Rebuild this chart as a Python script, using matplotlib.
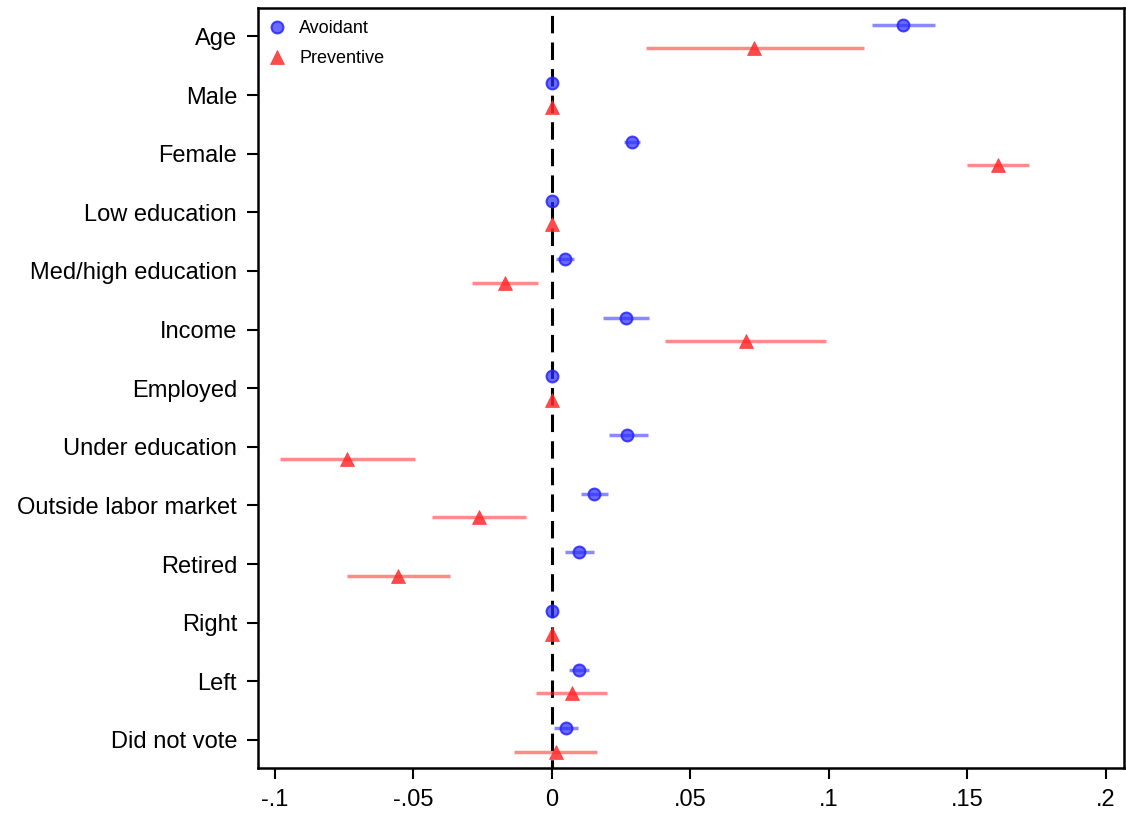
import numpy as np
import matplotlib
matplotlib.use("Agg")
import matplotlib.pyplot as plt

plt.rcParams['font.family'] = ['Liberation Sans', 'DejaVu Sans']

labels = ['Age', 'Male', 'Female', 'Low education', 'Med/high education', 'Income',
          'Employed', 'Under education', 'Outside labor market', 'Retired',
          'Right', 'Left', 'Did not vote']

avoid_est = [0.1268, 0.0, 0.0288, 0.0, 0.0047, 0.0266, 0.0, 0.0273, 0.0151, 0.0097, 0.0, 0.0097, 0.0050]
avoid_lo = [0.1156, 0.0, 0.0260, 0.0, 0.0014, 0.0184, 0.0, 0.0205, 0.0104, 0.0047, 0.0, 0.0061, 0.0007]
avoid_hi = [0.1383, 0.0, 0.0317, 0.0, 0.0079, 0.0350, 0.0, 0.0346, 0.0202, 0.0151, 0.0, 0.0133, 0.0094]

prev_est = [0.0731, 0.0, 0.1610, 0.0, -0.0169, 0.0699, 0.0, -0.0738, -0.0263, -0.0555, 0.0, 0.0072, 0.0014]
prev_lo = [0.0339, 0.0, 0.1498, 0.0, -0.0288, 0.0407, 0.0, -0.0980, -0.0432, -0.0738, 0.0, -0.0058, -0.0137]
prev_hi = [0.1127, 0.0, 0.1722, 0.0, -0.0050, 0.0990, 0.0, -0.0493, -0.0094, -0.0367, 0.0, 0.0198, 0.0162]

xticks = [-0.1, -0.05, 0, 0.05, 0.1, 0.15, 0.2]
xticklabels = ['-.1', '-.05', '0', '.05', '.1', '.15', '.2']

y = np.arange(len(labels))
off = 0.2

fig = plt.figure(figsize=(11.26, 8.16), dpi=100)
ax = fig.add_axes([0.229, 0.0588, 0.769, 0.931])

# reference line at zero
ax.axvline(0, color='black', lw=2.2, ls=(3, (5.7, 3.0)), zorder=1)

blue = '#2b2bff'
red = '#ff2b2b'

ae, al, ah = map(np.array, (avoid_est, avoid_lo, avoid_hi))
pe, pl, ph = map(np.array, (prev_est, prev_lo, prev_hi))

ax.hlines(y - off, al, ah, color=blue, alpha=0.55, lw=2.5, zorder=2)
ax.hlines(y + off, pl, ph, color=red, alpha=0.55, lw=2.5, zorder=2)
ax.plot(ae, y - off, 'o', ms=8.5, color=blue, mfc=(0.17, 0.17, 1, 0.7), mec=(0.15, 0.15, 1, 0.85),
        mew=1.5, ls='none', label='Avoidant', zorder=3)
ax.plot(pe, y + off, '^', ms=10, color=red, mfc=(1, 0.17, 0.17, 0.85), mec=(1, 0.17, 0.17, 0.85),
        mew=0.5, ls='none', label='Preventive', zorder=3)

ax.set_xlim(-0.1061, 0.2064)
ax.set_ylim(len(labels) - 0.52, -0.48)
ax.set_yticks(y)
ax.set_yticklabels(labels, fontsize=17)
ax.set_xticks(xticks)
ax.set_xticklabels(xticklabels, fontsize=17)
ax.tick_params(axis='both', direction='out', length=8, width=1.5, pad=7)
for s in ax.spines.values():
    s.set_linewidth(1.8)

ax.legend(loc='upper left', frameon=False, fontsize=13, handlelength=0.8,
          handletextpad=0.85, labelspacing=0.72, borderaxespad=0.1, borderpad=0.55)

fig.savefig('out.png', dpi=100)
